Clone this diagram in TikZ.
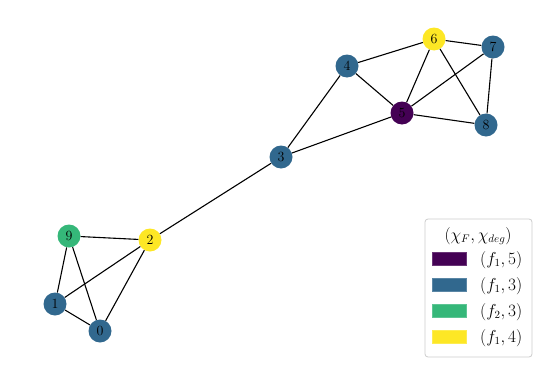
\documentclass[tikz,border=0pt]{standalone}
\usepackage{tikz}
\usetikzlibrary{arrows.meta}

\definecolor{vpurple}{HTML}{440154}
\definecolor{vblue}{HTML}{31688E}
\definecolor{vgreen}{HTML}{35B779}
\definecolor{vyellow}{HTML}{FDE725}

\begin{document}
\begin{tikzpicture}[x=1pt,y=-1pt,
  vtx/.style={circle, fill=#1, inner sep=0pt, minimum size=23pt, font=\fontsize{14}{16}\selectfont},
  edge/.style={line width=1.1pt, black},
  patch/.style={fill=#1, draw=#1!80!white, minimum width=34pt, minimum height=13pt, inner sep=0pt},
  entry/.style={anchor=west, inner sep=0pt, font=\fontsize{16}{18}\selectfont}]
\useasboundingbox (0,0) rectangle (549,372);
% vertices
\node[vtx=vblue] (v0) at (100,331) {0};
\node[vtx=vblue] (v1) at (55,304) {1};
\node[vtx=vyellow] (v2) at (150,240) {2};
\node[vtx=vblue] (v3) at (281,157) {3};
\node[vtx=vblue] (v4) at (347,66) {4};
\node[vtx=vpurple] (v5) at (402,113) {5};
\node[vtx=vyellow] (v6) at (434,39) {6};
\node[vtx=vblue] (v7) at (493,47) {7};
\node[vtx=vblue] (v8) at (486,125) {8};
\node[vtx=vgreen] (v9) at (69,236) {9};
% edges
\foreach \a/\b in {9/2,9/1,9/0,1/2,1/0,0/2,2/3,3/4,3/5,4/6,4/5,5/6,5/7,5/8,6/7,6/8,7/8}
  \draw[edge] (v\a) -- (v\b);
% legend
\draw[draw=black!20, line width=0.8pt, fill=white, rounded corners=3pt] (425,219) rectangle (532,357);
\node[font=\fontsize{16}{18}\selectfont] (ltitle) at (478,236) {$(\chi_F,\chi_{deg})$};
\node[patch=vpurple] (p1) at (449,259) {};
\node[patch=vblue] (p2) at (449,285) {};
\node[patch=vgreen] (p3) at (449,311) {};
\node[patch=vyellow] (p4) at (449,337) {};
\node[entry] (l1) at (480,260) {$(f_1,5)$};
\node[entry] (l2) at (480,286) {$(f_1,3)$};
\node[entry] (l3) at (480,312) {$(f_2,3)$};
\node[entry] (l4) at (480,338) {$(f_1,4)$};
\end{tikzpicture}
\end{document}
